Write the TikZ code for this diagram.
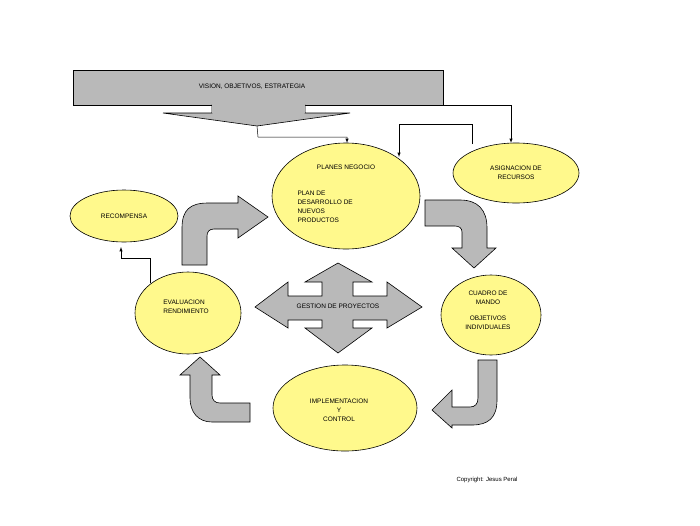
\documentclass[tikz,border=0pt]{standalone}
\usepackage{fontspec}
\setmainfont{Liberation Sans}
\begin{document}
\begin{tikzpicture}[x=1pt,y=-1pt,
  ell/.style={draw=black,fill=yellow!45,line width=0.6pt},
  garrow/.style={draw=black,fill=gray!55,line width=0.6pt},
  conn/.style={draw=black,line width=0.5pt,-latex},
  lbl/.style={font=\fontsize{6.5}{9}\selectfont,align=left}]
\useasboundingbox (0,0) rectangle (700,525);
% banner
\draw[garrow] (73,70) rectangle (443,105);
\node[lbl] (vision) at (252,87) {VISION, OBJETIVOS, ESTRATEGIA};
\draw[garrow] (212,104.5) -- (212,113) -- (163,113) -- (257,126) -- (350,113) -- (305,113) -- (305,104.5);
\fill[gray!55] (212.4,104) rectangle (304.6,113.3);
\coordinate (apex) at (257,126);
\coordinate (bannerR) at (443,105);
% ellipses
\draw[ell] (346,196) ellipse (74 and 53);
\node (planes) at (346,196) {};
\draw[ell] (516,173) ellipse (63 and 30);
\node (asig) at (516,173) {};
\draw[ell] (124,216) ellipse (54 and 26);
\node (recomp) at (124,216) {};
\draw[ell] (188,313) ellipse (53 and 41);
\node (eval) at (188,313) {};
\draw[ell] (491,315) ellipse (50 and 40);
\node (cuadro) at (491,315) {};
\draw[ell] (345,408) ellipse (72 and 43);
\node (impl) at (345,408) {};
% texts
\node[lbl] (t1) at (346,167) {PLANES NEGOCIO};
\node[lbl,anchor=north west] (t2) at (294,187) {PLAN DE\\DESARROLLO DE\\NUEVOS\\PRODUCTOS};
\node[lbl,align=center] (t3) at (516,173) {ASIGNACION DE\\RECURSOS};
\node[lbl] (t4) at (124,216) {RECOMPENSA};
\node[lbl] (t5) at (186,307) {EVALUACION\\RENDIMIENTO};
\begin{scope}
\clip (491,315) ellipse (50 and 40);
\node[lbl,align=center,anchor=north] (t6) at (488,287) {CUADRO DE\\MANDO\\[7pt]OBJETIVOS\\INDIVIDUALES};
\end{scope}
\node[lbl,align=center] (t7) at (339,410) {IMPLEMENTACION\\Y\\CONTROL};
% connectors
\draw[conn] (apex) -- (258,137) -- (347,137) -- (347,143);
\draw[conn] (bannerR) -- (511,105) -- (511,143);
\draw[conn] (472,144) -- (472,124) -- (399,124) -- (399,157);
\draw[conn] (150,283) -- (150,258) -- (121,258) -- (121,247);
% four-way arrow
\draw[garrow] (255,307) -- (288,282) -- (288,296) -- (322,296) -- (322,282) -- (305,282) -- (338,263)
 -- (372,282) -- (353,282) -- (353,296) -- (387,296) -- (387,282) -- (422,307) -- (387,328) -- (387,320)
 -- (353,320) -- (353,328) -- (372,328) -- (338,353) -- (305,328) -- (322,328) -- (322,320) -- (288,320) -- (288,328) -- cycle;
\node[lbl] (gest) at (338,306) {GESTION DE PROYECTOS};
% curved arrows
\draw[garrow] (182,265) -- (182,228) .. controls (182,210) and (190,203) .. (208,203) -- (238,203) -- (238,196) -- (268,217) -- (238,238) -- (238,229) -- (214,229) .. controls (209,229) and (207,232) .. (207,236) -- (207,265) -- cycle;
\draw[garrow] (425,200) -- (460,200) .. controls (478,200) and (487,210) .. (487,228) -- (487,248) -- (496,248) -- (474,268) -- (452,248) -- (462,248) -- (462,232) .. controls (462,228) and (459,226) .. (455,226) -- (425,226) -- cycle;
\draw[garrow] (478,360) -- (497,360) -- (497,400) .. controls (497,418) and (488,425) .. (472,425) -- (452,425) -- (452,428) -- (432,410) -- (452,390) -- (452,407) -- (470,407) .. controls (475,407) and (478,404) .. (478,398) -- cycle;
\draw[garrow] (250,403) -- (250,422) -- (212,422) .. controls (198,422) and (190,412) .. (190,398) -- (190,375) -- (180,375) -- (200,357) -- (220,375) -- (212,375) -- (212,395) .. controls (212,400) and (215,403) .. (220,403) -- cycle;
\node[font=\fontsize{6}{8}\selectfont] (copy) at (487,480) {Copyright: Jesus Peral};
\end{tikzpicture}
\end{document}
